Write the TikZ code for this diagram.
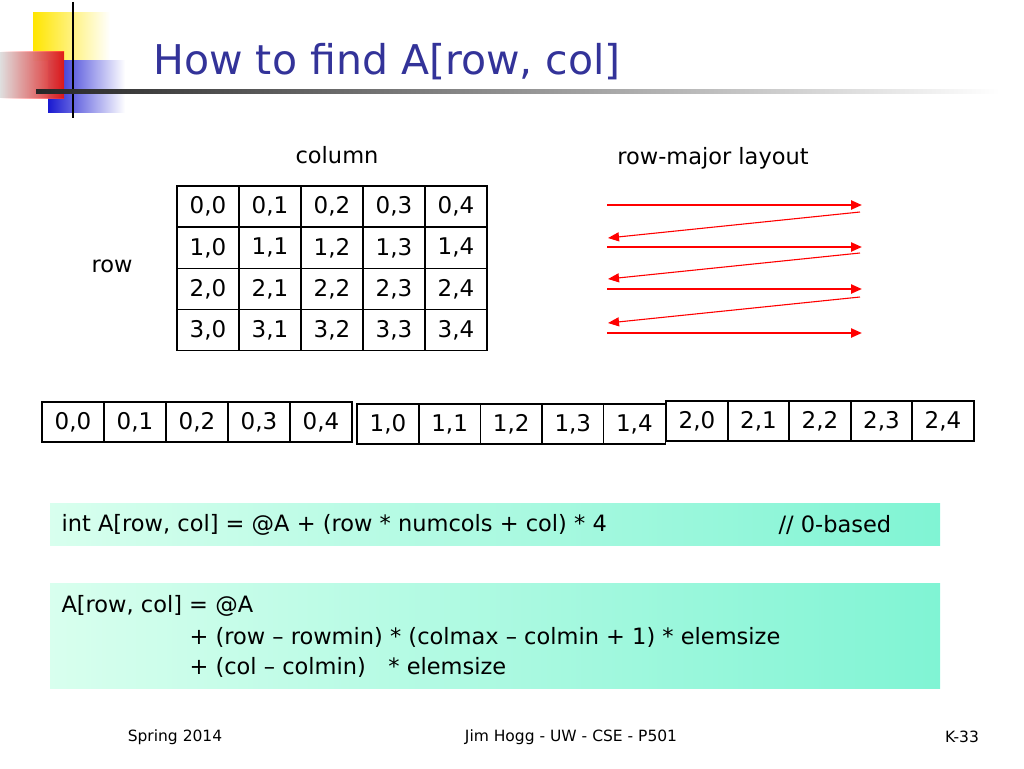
\documentclass[tikz,border=0pt]{standalone}
\usepackage{fontspec}
\setmainfont{DejaVu Sans}
\usetikzlibrary{arrows.meta}
\definecolor{ttl}{HTML}{333399}
\definecolor{gA}{HTML}{D8FFEE}
\definecolor{gB}{HTML}{80F4D4}
\begin{document}
\begin{tikzpicture}[x=1pt,y=-1pt,
  cell/.style={draw,line width=1.1pt,minimum width=62pt,minimum height=41pt,inner sep=0pt,font=\fontsize{23}{26}\selectfont},
  lcell/.style={draw,line width=1.1pt,minimum width=62pt,minimum height=40pt,inner sep=0pt,font=\fontsize{23}{26}\selectfont},
  lbl/.style={font=\fontsize{22.5}{26}\selectfont},
  arr/.style={red,line width=2.3pt,-{Triangle[length=11pt,width=9pt]}},
  darr/.style={red,line width=1.1pt,-{Triangle[length=11pt,width=9pt]}},
  foot/.style={font=\fontsize{15.5}{18}\selectfont}]
\useasboundingbox (0,0) rectangle (1024,768);
% logo
\fill[left color=yellow!80!orange,right color=white] (33,13) rectangle (110,60);
\fill[left color=blue!80!black!90,right color=white] (48,60) rectangle (125,112);
\fill[right color=red!90,left color=white,opacity=0.85] (0,52) rectangle (64,98);
\draw[line width=2.5pt] (73,2) -- (73,118);
\shade[left color=black!85,right color=white] (36,89) rectangle (1000,93);
\node[anchor=west,text=ttl,font=\fontsize{41}{46}\selectfont] (title) at (150,62) {How to find A[row, col]};
% labels
\node[lbl] (colL) at (337,155) {column};
\node[lbl] (rowL) at (112,266) {row};
\node[lbl] (rm) at (713,158) {row-major layout};
% grid
\foreach \r in {0,...,3}{\foreach \c in {0,...,4}{
  \node[cell] (g\r\c) at (208+62*\c,206.5+41.3*\r) {\r,\c};}}
% arrows
\coordinate (a1) at (607,205); \coordinate (b1) at (862,205);
\coordinate (a2) at (607,247); \coordinate (b2) at (862,247);
\coordinate (a3) at (607,289); \coordinate (b3) at (862,289);
\coordinate (a4) at (607,333); \coordinate (b4) at (862,333);
\coordinate (d1) at (860,212); \coordinate (e1) at (608,238);
\coordinate (d2) at (860,253); \coordinate (e2) at (608,279);
\coordinate (d3) at (860,297); \coordinate (e3) at (608,323);
\foreach \i in {1,...,4}{\draw[arr] (a\i) -- (b\i);}
\foreach \i in {1,2,3}{\draw[darr] (d\i) -- (e\i);}
% linear
\foreach \c in {0,...,4}{
  \node[lcell] (l0\c) at (73+62*\c,422) {0,\c};
  \node[lcell] (l1\c) at (388+61.6*\c,424) {1,\c};
  \node[lcell] (l2\c) at (697+61.5*\c,421) {2,\c};}
% formulas
\fill[left color=gA,right color=gB] (50,503) rectangle (940,545);
\node[anchor=west,lbl] (f1) at (58,525) {int A[row, col] = @A + (row * numcols + col) * 4};
\node[anchor=west,lbl] (f1b) at (775,525) {// 0-based};
\fill[left color=gA,right color=gB] (50,583) rectangle (940,688);
\node[anchor=west,lbl] (f2) at (58,606) {A[row, col] = @A};
\node[anchor=west,lbl] (f3) at (186,637) {+ (row – rowmin) * (colmax – colmin + 1) * elemsize};
\node[anchor=west,lbl] (f4) at (186,667) {+ (col – colmin)\quad * elemsize};
% footer
\node[foot] (s1) at (175,737) {Spring 2014};
\node[foot] (s2) at (571,737) {Jim Hogg - UW - CSE - P501};
\node[foot] (s3) at (962,737) {K-33};
\end{tikzpicture}
\end{document}
